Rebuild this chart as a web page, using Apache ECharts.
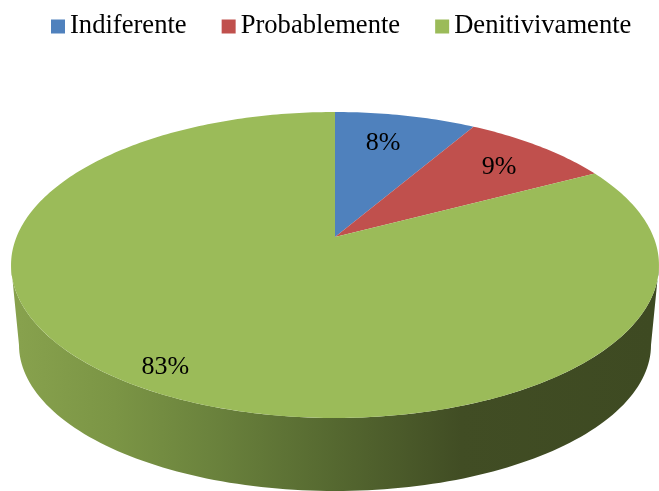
<!DOCTYPE html>
<html>
<head>
<meta charset="utf-8">
<style>
  html, body { margin: 0; padding: 0; background: #fff; }
  #chart { width: 659px; height: 491px; }
</style>
</head>
<body>
<div id="chart"></div>
<script src="https://cdn.jsdelivr.net/npm/echarts@6/dist/echarts.min.js"></script>
<script>
const categories = ['Indiferente', 'Probablemente', 'Denitivivamente']
const values = [8.4, 8.9, 82.7]
const colors = ['#4F81BD', '#C0504D', '#9BBB59']

// 标签位置
const labelRadius = [0.75, 0.8, 0.9]
const labelOffset = [[-7, 1], [-3, 4], [3, -2]]

// 透视椭圆：顶面
const apex = { x: 335, y: 237 }
const persp = 0.183
const radiusX = 318.5
const slopeY = 104.5
// 底面椭圆
const base = { x: 335, y: 345, rx: 316, ry: 146 }
// 顶面左右端点对应的角度
const frontStart = Math.PI * 0.558
const frontEnd = Math.PI * 1.442

const total = values.reduce((a, b) => a + b, 0)

function project (angle, r) {
  const u = Math.sin(angle) * r
  const v = -Math.cos(angle) * r
  const w = 1 - persp * v
  return [apex.x + radiusX * u / w, (slopeY * v + apex.y) / w]
}

function sectorPoints (a0, a1) {
  const pts = [[apex.x, apex.y]]
  const n = Math.max(8, Math.ceil((a1 - a0) * 60))
  for (let i = 0; i <= n; i++) {
    pts.push(project(a0 + (a1 - a0) * i / n, 1))
  }
  return pts
}

// 侧面只画前半部分
function wallPoints (a0, a1) {
  const start = Math.max(a0, frontStart)
  const end = Math.min(a1, frontEnd)
  if (end <= start) return null
  const pts = []
  const n = 120
  for (let i = 0; i <= n; i++) {
    pts.push(project(start + (end - start) * i / n, 1))
  }
  for (let i = n; i >= 0; i--) {
    const t = start + (end - start) * i / n
    const e = (t - frontStart) / (frontEnd - frontStart) * Math.PI
    pts.push([base.x + base.rx * Math.cos(e), base.y + base.ry * Math.sin(e)])
  }
  return pts
}

function makeSeries (name, idx) {
  return {
    name: name,
    type: 'custom',
    coordinateSystem: 'none',
    animation: false,
    silent: true,
    itemStyle: { color: colors[idx] },
    data: [values[idx]],
    renderItem: function () {
      const before = values.slice(0, idx).reduce((a, b) => a + b, 0)
      const a0 = before / total * Math.PI * 2
      const a1 = (before + values[idx]) / total * Math.PI * 2
      const children = []
      const wall = wallPoints(a0, a1)
      if (wall) {
        children.push({
          type: 'polygon',
          shape: { points: wall },
          style: {
            fill: {
              type: 'linear',
              x: 20,
              y: 0,
              x2: 650,
              y2: 0,
              global: true,
              colorStops: [
                { offset: 0, color: '#87A14D' },
                { offset: 0.15, color: '#7B9545' },
                { offset: 0.3, color: '#6B833D' },
                { offset: 0.5, color: '#556830' },
                { offset: 0.7, color: '#414D24' },
                { offset: 1, color: '#3E4A22' }
              ]
            }
          }
        })
      }
      children.push({
        type: 'polygon',
        shape: { points: sectorPoints(a0, a1) },
        style: { fill: colors[idx] }
      })
      const pos = project((a0 + a1) / 2, labelRadius[idx])
      children.push({
        type: 'text',
        z2: 10,
        style: {
          x: pos[0] + labelOffset[idx][0],
          y: pos[1] + labelOffset[idx][1],
          text: Math.round(values[idx]) + '%',
          align: 'center',
          verticalAlign: 'middle',
          fill: '#000',
          font: '26px "Liberation Serif"'
        }
      })
      return { type: 'group', children: children }
    }
  }
}

const myChart = echarts.init(document.getElementById('chart'))
myChart.setOption({
  backgroundColor: '#fff',
  animation: false,
  legend: {
    data: categories,
    left: 46,
    top: 8,
    icon: 'rect',
    itemWidth: 14,
    itemHeight: 14,
    itemGap: 35,
    textStyle: {
      color: '#000',
      fontFamily: 'Liberation Serif',
      fontSize: 26.6
    }
  },
  series: categories.map(makeSeries)
})
</script>
</body>
</html>
